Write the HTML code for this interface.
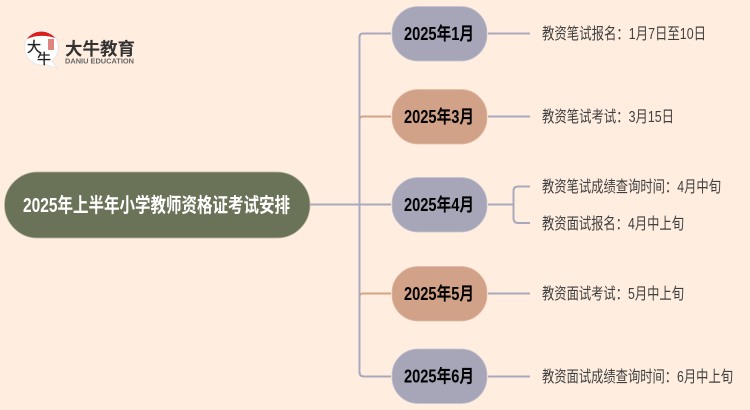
<!DOCTYPE html>
<html><head><meta charset="utf-8"><style>
html,body{margin:0;padding:0;background:#ffeee0;width:750px;height:410px;overflow:hidden}
svg{display:block}
text{font-family:"Liberation Sans","Noto Sans CJK SC",sans-serif}
.t{font-size:16px;fill:#3f3f3f}
.n{font-size:18px;font-weight:700;fill:#000}
</style></head><body>
<svg width="750" height="410" viewBox="0 0 750 410" xmlns="http://www.w3.org/2000/svg">
<rect width="750" height="410" fill="#ffeee0"/>
<!-- logo -->
<path d="M41 30a17.500 17.500 0 1 0 5 34.500l11 3.500-5-7a17.500 17.500 0 0 0-11-31z" fill="#fff" stroke="#ddd" stroke-width=".6"/>
<path d="M27 39a17.500 17.500 0 0 1 28 -1a24 14 0 0 0-28 1z" fill="#d9201c"/>
<rect x="48" y="39" width="6" height="11" fill="#d9706a" opacity=".85"/>
<text x="27" y="52" font-size="14" font-weight="400" stroke="#222" stroke-width=".3" fill="#222">大</text>
<text x="37" y="64" font-size="14" font-weight="400" stroke="#222" stroke-width=".3" fill="#222">牛</text>
<text x="65" y="55" font-size="17.500" font-weight="700" fill="#333" textLength="70" lengthAdjust="spacingAndGlyphs">大牛教育</text>
<text x="65" y="63.500" font-size="7.500" font-weight="700" fill="#666" textLength="69" lengthAdjust="spacingAndGlyphs">DANIU EDUCATION</text>
<!-- connectors -->
<g fill="none" stroke-width="2">
<path d="M359.500 116.500V297Q359.500 293.500 363 293.500H391" stroke="#d4a288"/>
<path d="M359.500 205V120Q359.500 116.500 363 116.500H391" stroke="#d4a288"/>
<path d="M391 33.500H363Q359.500 33.500 359.500 37V372Q359.500 376.500 364 376.500H391" stroke="#a9a9bc"/>
<path d="M310 204.500H391" stroke="#a9a9bc"/>
<path d="M488 33.500H530M488 116.500H530M488 204.500H513M488 293.500H530M488 376.500H530" stroke="#a9a9bc"/>
<path d="M530 186.500H518Q513.500 186.500 513.500 191V218Q513.500 223 518 223H530" stroke="#a9a9bc"/>
</g>
<!-- root -->
<rect x="4.500" y="172" width="305.500" height="66" rx="33" fill="#6a7258" stroke="#b5b59c" stroke-width=".7"/>
<text x="23" y="212" font-size="20" font-weight="700" fill="#fff" textLength="267" lengthAdjust="spacingAndGlyphs">2025年上半年小学教师资格证考试安排</text>
<!-- nodes -->
<g stroke-width=".7">
<rect x="392" y="6.500" width="95" height="54.500" rx="26" fill="#a6a6b8" stroke="#c4c4d0"/>
<rect x="392" y="89.500" width="95" height="54.500" rx="26" fill="#d2a288" stroke="#e0bca6"/>
<rect x="392" y="177.500" width="95" height="54.500" rx="26" fill="#a6a6b8" stroke="#c4c4d0"/>
<rect x="392" y="266.500" width="95" height="54.500" rx="26" fill="#d2a288" stroke="#e0bca6"/>
<rect x="392" y="349" width="95" height="54.500" rx="26" fill="#a6a6b8" stroke="#c4c4d0"/>
</g>
<text class="n" x="404" y="40" textLength="70" lengthAdjust="spacingAndGlyphs">2025年1月</text>
<text class="n" x="404" y="123" textLength="70" lengthAdjust="spacingAndGlyphs">2025年3月</text>
<text class="n" x="404" y="211" textLength="70" lengthAdjust="spacingAndGlyphs">2025年4月</text>
<text class="n" x="404" y="300" textLength="70" lengthAdjust="spacingAndGlyphs">2025年5月</text>
<text class="n" x="404" y="382.500" textLength="70" lengthAdjust="spacingAndGlyphs">2025年6月</text>
<!-- leaf text -->
<text class="t" x="542" y="39" textLength="164" lengthAdjust="spacingAndGlyphs">教资笔试报名&#xFF1A;1月7日至10日</text>
<text class="t" x="542" y="122" textLength="132" lengthAdjust="spacingAndGlyphs">教资笔试考试&#xFF1A;3月15日</text>
<text class="t" x="542" y="192" textLength="179" lengthAdjust="spacingAndGlyphs">教资笔试成绩查询时间&#xFF1A;4月中旬</text>
<text class="t" x="542" y="229" textLength="142" lengthAdjust="spacingAndGlyphs">教资面试报名&#xFF1A;4月中上旬</text>
<text class="t" x="542" y="299" textLength="142" lengthAdjust="spacingAndGlyphs">教资面试考试&#xFF1A;5月中上旬</text>
<text class="t" x="542" y="382" textLength="191" lengthAdjust="spacingAndGlyphs">教资面试成绩查询时间&#xFF1A;6月中上旬</text>
</svg>
</body></html>
